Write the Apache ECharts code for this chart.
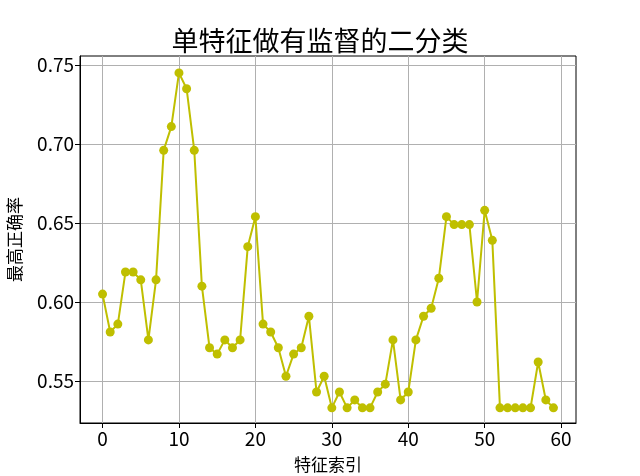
<!DOCTYPE html>
<html>
<head>
<meta charset="utf-8">
<script src="https://cdn.jsdelivr.net/npm/echarts@6/dist/echarts.min.js"></script>
<style>html,body{margin:0;padding:0;background:#fff}#c{width:640px;height:476px}</style>
</head>
<body>
<div id="c"></div>
<script>
const title = '单特征做有监督的二分类';
const xName = '特征索引';
const yName = '最高正确率';
const featureIndex = Array.from({length: 60}, (_, i) => i);
const accuracy = [
  0.605, 0.581, 0.586, 0.619, 0.619, 0.614, 0.576, 0.614, 0.696, 0.711,
  0.745, 0.735, 0.696, 0.610, 0.571, 0.567, 0.576, 0.571, 0.576, 0.635,
  0.654, 0.586, 0.581, 0.571, 0.553, 0.567, 0.571, 0.591, 0.543, 0.553,
  0.533, 0.543, 0.533, 0.538, 0.533, 0.533, 0.543, 0.548, 0.576, 0.538,
  0.543, 0.576, 0.591, 0.596, 0.615, 0.654, 0.649, 0.649, 0.649, 0.600,
  0.658, 0.639, 0.533, 0.533, 0.533, 0.533, 0.533, 0.562, 0.538, 0.533
];
const xTicks = [0, 10, 20, 30, 40, 50, 60];
const yTicks = [0.55, 0.60, 0.65, 0.70, 0.75];

const chart = echarts.init(document.getElementById('c'), null, {renderer: 'canvas'});
const cjk = '"Noto Sans CJK SC", sans-serif';
chart.setOption({
  animation: false,
  backgroundColor: '#fff',
  title: {
    text: title, left: 'center', top: 22,
    textStyle: {fontFamily: cjk, fontSize: 27, fontWeight: 'normal', color: '#000'}
  },
  grid: {
    left: 80, right: 64, top: 56, bottom: 53,
    outerBoundsMode: 'none', containLabel: false,
    show: true, borderColor: '#000', borderWidth: 1, backgroundColor: 'transparent'
  },
  xAxis: {
    type: 'value', min: -2.95, max: 61.95,
    name: xName, nameLocation: 'middle', nameGap: 33,
    nameTextStyle: {fontFamily: cjk, fontSize: 17, color: '#000'},
    axisLine: {show: true, onZero: false, lineStyle: {color: '#000', width: 1}},
    axisTick: {show: true, length: 5, inside: false, customValues: xTicks, lineStyle: {color: '#000'}},
    axisLabel: {customValues: xTicks, fontFamily: cjk, fontSize: 19, color: '#000', margin: 6},
    splitLine: {show: true, lineStyle: {color: '#b0b0b0', width: 1}}
  },
  yAxis: {
    type: 'value', min: 0.5234, max: 0.7557,
    name: yName, nameLocation: 'middle', nameGap: 57, nameRotate: 90,
    nameTextStyle: {fontFamily: cjk, fontSize: 17, color: '#000'},
    axisLine: {show: true, onZero: false, lineStyle: {color: '#000', width: 1}},
    axisTick: {show: true, length: 5, inside: false, customValues: yTicks, lineStyle: {color: '#000'}},
    axisLabel: {customValues: yTicks, fontFamily: cjk, fontSize: 19, color: '#000', margin: 6,
      formatter: v => v.toFixed(2)},
    splitLine: {show: true, lineStyle: {color: '#b0b0b0', width: 1}}
  },
  series: [{
    type: 'line',
    data: featureIndex.map((x, i) => [x, accuracy[i]]),
    color: '#bfbf00',
    lineStyle: {color: '#bfbf00', width: 2},
    itemStyle: {color: '#bfbf00'},
    symbol: 'circle', symbolSize: 9, showAllSymbol: true,
    clip: false
  }]
});
</script>
</body>
</html>
